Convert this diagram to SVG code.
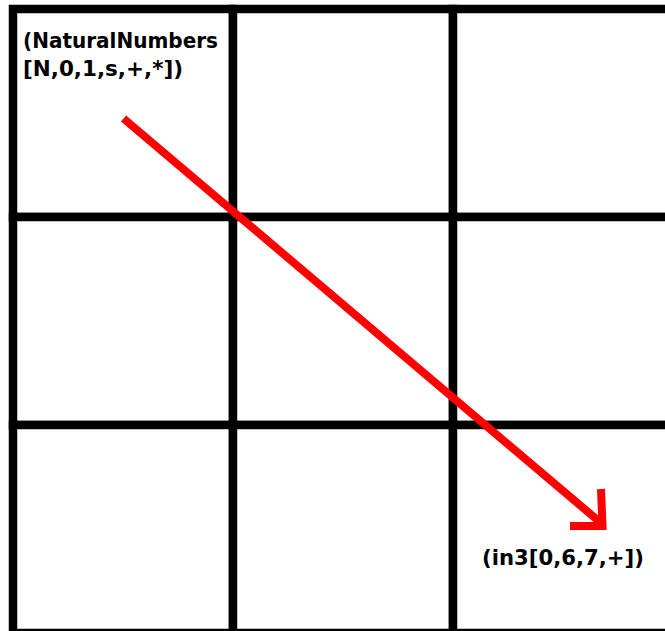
<svg xmlns="http://www.w3.org/2000/svg" width="665" height="631" viewBox="0 0 665 631">
<style>
.cell{fill:#fff;stroke:#000;stroke-width:8.5}
.lbl{font-family:"DejaVu Sans","Liberation Sans",sans-serif;font-weight:bold;font-size:22px;fill:#000}
.arrow{fill:none;stroke:#ff0000;stroke-width:8}
</style>
<rect width="665" height="631" fill="#fff"/>
<g id="cells">
<g id="cell-r1c1"><rect class="cell" x="13" y="9" width="220" height="208"/></g>
<g id="cell-r1c2"><rect class="cell" x="233" y="9" width="220" height="208"/></g>
<g id="cell-r1c3"><rect class="cell" x="453" y="9" width="220" height="208"/></g>
<g id="cell-r2c1"><rect class="cell" x="13" y="217" width="220" height="208"/></g>
<g id="cell-r2c2"><rect class="cell" x="233" y="217" width="220" height="208"/></g>
<g id="cell-r2c3"><rect class="cell" x="453" y="217" width="220" height="208"/></g>
<g id="cell-r3c1"><rect class="cell" x="13" y="425" width="220" height="208"/></g>
<g id="cell-r3c2"><rect class="cell" x="233" y="425" width="220" height="208"/></g>
<g id="cell-r3c3"><rect class="cell" x="453" y="425" width="220" height="208"/></g>
</g>
<g id="node-natural">
<text class="lbl" x="23" y="47.5" textLength="195" lengthAdjust="spacingAndGlyphs">(NaturalNumbers</text>
<text class="lbl" x="23" y="76" textLength="160" lengthAdjust="spacingAndGlyphs">[N,0,1,s,+,*])</text>
</g>
<g id="node-in3">
<text class="lbl" x="482" y="564.5" textLength="162" lengthAdjust="spacingAndGlyphs">(in3[0,6,7,+])</text>
</g>
<g id="connectors">
<line class="arrow" x1="123.5" y1="118.5" x2="601" y2="523"/>
<polyline class="arrow" points="601,489 602.5,526 570,526" stroke-linejoin="miter"/>
</g>
</svg>
